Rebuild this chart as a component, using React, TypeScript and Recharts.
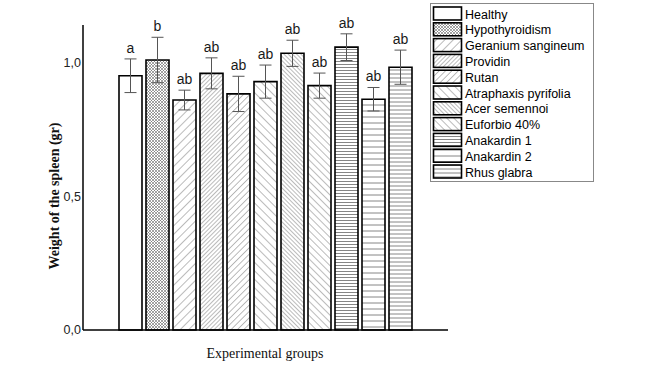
import { BarChart, Bar, XAxis, YAxis, ErrorBar, Cell, LabelList, Label } from 'recharts';

const groups = [
  'Healthy',
  'Hypothyroidism',
  'Geranium sangineum',
  'Providin',
  'Rutan',
  'Atraphaxis pyrifolia',
  'Acer semennoi',
  'Euforbio 40%',
  'Anakardin 1',
  'Anakardin 2',
  'Rhus glabra',
];
const weights = [0.952, 1.011, 0.861, 0.961, 0.884, 0.93, 1.036, 0.915, 1.059, 0.864, 0.984];
const errors = [0.063, 0.085, 0.037, 0.058, 0.066, 0.062, 0.049, 0.047, 0.05, 0.044, 0.064];
const letters = ['a', 'b', 'ab', 'ab', 'ab', 'ab', 'ab', 'ab', 'ab', 'ab', 'ab'];
const yTicks = [0, 0.5, 1.0];

// hatch style per group: kind + line spacing
const hatches: { kind: string; gap: number }[] = [
  { kind: 'none', gap: 0 },
  { kind: 'cross', gap: 3 },
  { kind: 'fwd', gap: 6 },
  { kind: 'fwd', gap: 3 },
  { kind: 'fwd', gap: 4.5 },
  { kind: 'back', gap: 6 },
  { kind: 'back', gap: 3 },
  { kind: 'back', gap: 5 },
  { kind: 'hor', gap: 3 },
  { kind: 'hor', gap: 6 },
  { kind: 'hor', gap: 4 },
];

const data = groups.map((g, i) => ({ group: g, weight: weights[i], err: errors[i], letter: letters[i] }));

const fillFor = (i: number) => (hatches[i].kind === 'none' ? '#fff' : `url(#hatch-${i})`);

function Patterns() {
  return (
    <defs>
      {hatches.map((h, i) => {
        if (h.kind === 'none') return null;
        if (h.kind === 'cross') {
          return (
            <pattern key={i} id={`hatch-${i}`} width={h.gap} height={h.gap} patternUnits="userSpaceOnUse">
              <rect width={h.gap} height={h.gap} fill="#fff" />
              <path d={`M0,0 L${h.gap},${h.gap} M${h.gap},0 L0,${h.gap}`} stroke="#666" strokeWidth={0.6} />
            </pattern>
          );
        }
        if (h.kind === 'hor') {
          return (
            <pattern key={i} id={`hatch-${i}`} width={4} height={h.gap} patternUnits="userSpaceOnUse">
              <rect width={4} height={h.gap} fill="#fff" />
              <line x1={0} y1={h.gap / 2} x2={4} y2={h.gap / 2} stroke="#666" strokeWidth={0.8} />
            </pattern>
          );
        }
        return (
          <pattern
            key={i}
            id={`hatch-${i}`}
            width={h.gap}
            height={h.gap}
            patternUnits="userSpaceOnUse"
            patternTransform={`rotate(${h.kind === 'fwd' ? 45 : -45})`}
          >
            <rect width={h.gap} height={h.gap} fill="#fff" />
            <line x1={0} y1={0} x2={0} y2={h.gap} stroke="#555" strokeWidth={0.8} />
          </pattern>
        );
      })}
    </defs>
  );
}

function LetterLabel(props: any) {
  const { x, y, width, height, value, index } = props;
  const v = weights[index];
  const pxPerUnit = height / v;
  const errTop = y - errors[index] * pxPerUnit;
  return (
    <text x={x + width / 2} y={errTop - 6} textAnchor="middle" fontFamily="Liberation Sans, Arial" fontSize={14} fill="#1a1a1a">
      {value}
    </text>
  );
}

function LegendBox() {
  return (
    <svg width={164} height={179} style={{ position: 'absolute', left: 430, top: 3 }}>
      <rect x={0.5} y={0.5} width={163} height={178} fill="#fff" stroke="#888" strokeWidth={1} />
      {groups.map((g, i) => (
        <g key={g}>
          <rect x={3.5} y={4 + i * 15.8} width={28} height={13} fill={fillFor(i)} stroke="#000" strokeWidth={1.6} />
          <text x={35} y={15.5 + i * 15.8} fontFamily="Liberation Sans, Arial" fontSize={12.5} fill="#000">
            {g}
          </text>
        </g>
      ))}
    </svg>
  );
}

export default function App() {
  return (
    <div style={{ position: 'absolute', left: 0, top: 0, width: 658, height: 366, background: '#fff' }}>
      <BarChart width={658} height={366} data={data} margin={{ top: 25, right: 210, bottom: 0, left: 0 }}>
        <Patterns />
        <XAxis
          dataKey="group"
          tick={false}
          tickLine={false}
          height={36}
          padding={{ left: 34, right: 34 }}
          axisLine={{ stroke: '#000', strokeWidth: 1.5 }}
        >
          <Label
            content={() => (
              <text x={265} y={358} textAnchor="middle" fontFamily="Liberation Serif, Times New Roman" fontSize={14} fill="#111">
                Experimental groups
              </text>
            )}
          />
        </XAxis>
        <YAxis
          width={83}
          domain={[0, 1.142]}
          ticks={yTicks}
          tickSize={0}
          tickMargin={2}
          tickLine={false}
          axisLine={{ stroke: '#000', strokeWidth: 1.5 }}
          tickFormatter={(v: number) => v.toFixed(1).replace('.', ',')}
          tick={{ fontFamily: 'Liberation Sans, Arial', fontSize: 12.5, fill: '#222' }}
        >
          <Label
            content={() => (
              <text
                x={59}
                y={196}
                transform="rotate(-90 59 196)"
                textAnchor="middle"
                fontFamily="Liberation Serif, Times New Roman"
                fontWeight="bold"
                fontSize={14}
                fill="#111"
              >
                Weight of the spleen (gr)
              </text>
            )}
          />
        </YAxis>
        <Bar dataKey="weight" barSize={23} stroke="#000" strokeWidth={1.6} isAnimationActive={false}>
          {data.map((d, i) => (
            <Cell key={d.group} fill={fillFor(i)} />
          ))}
          <ErrorBar dataKey="err" width={6} stroke="#555" strokeWidth={1} />
          <LabelList dataKey="letter" content={<LetterLabel />} />
        </Bar>
      </BarChart>
      <LegendBox />
    </div>
  );
}
